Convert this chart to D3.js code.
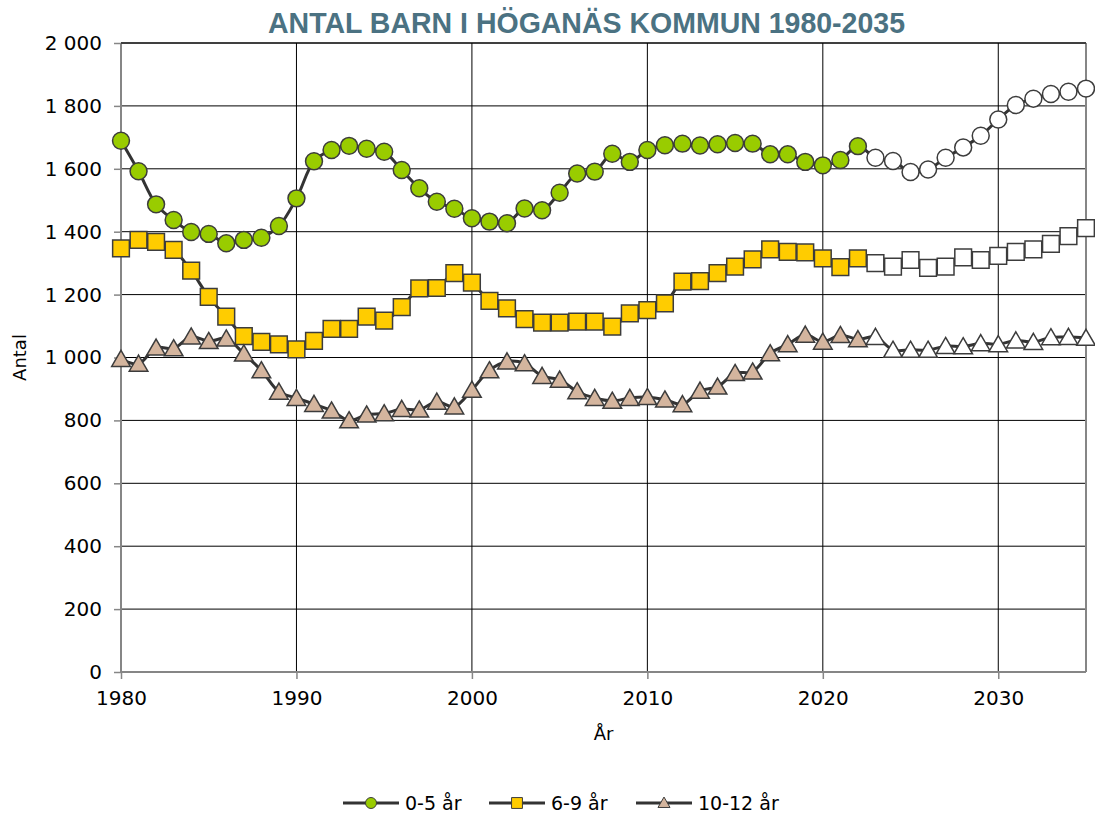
<!DOCTYPE html>
<html>
<head>
<meta charset="utf-8">
<script src="https://cdn.jsdelivr.net/npm/d3@7"></script>
<style>
  body { margin: 0; background: #fff; }
  svg { display: block; }
  text { font-family: "DejaVu Sans", sans-serif; fill: #000; }
</style>
</head>
<body>
<svg id="chart" width="1095" height="813"></svg>
<script>
// years 1980-2035, actual up to 2022 then forecast (white markers)
var years = d3.range(1980, 2036);
var lastActual = 2022;
var yTicks = [0, 200, 400, 600, 800, 1000, 1200, 1400, 1600, 1800, 2000];
var xTicks = [1980, 1990, 2000, 2010, 2020, 2030];

var age0_5 = [1689, 1592, 1487, 1437, 1399, 1393, 1363, 1374, 1381, 1418,
              1506, 1624, 1660, 1673, 1664, 1654, 1596, 1538, 1495, 1473,
              1443, 1432, 1427, 1474, 1468, 1524, 1585, 1591, 1648, 1622,
              1660, 1675, 1680, 1674, 1678, 1682, 1680, 1646, 1646, 1622,
              1611, 1628, 1672, 1635, 1625, 1590, 1598, 1635, 1668, 1705,
              1757, 1803, 1823, 1838, 1845, 1855];
var age6_9 = [1347, 1374, 1368, 1342, 1276, 1193, 1130, 1068, 1050, 1042,
              1026, 1053, 1091, 1091, 1130, 1117, 1160, 1220, 1221, 1268,
              1238, 1180, 1156, 1122, 1111, 1111, 1114, 1114, 1098, 1140,
              1151, 1172, 1241, 1243, 1268, 1289, 1312, 1344, 1336, 1334,
              1315, 1287, 1315, 1300, 1289, 1310, 1285, 1289, 1318, 1310,
              1323, 1336, 1344, 1361, 1386, 1411];
var age10_12 = [995, 980, 1031, 1029, 1066, 1052, 1060, 1012, 959, 891,
                871, 852, 831, 800, 818, 822, 836, 834, 859, 844,
                897, 959, 987, 981, 941, 929, 892, 871, 862, 871,
                874, 866, 851, 894, 907, 950, 955, 1013, 1042, 1072,
                1050, 1071, 1058, 1065, 1024, 1024, 1024, 1036, 1035, 1045,
                1042, 1054, 1049, 1064, 1065, 1062];

var seriesNames = ['0-5 år', '6-9 år', '10-12 år'];
var seriesColors = ['#99cc00', '#ffcc00', '#d4b59e'];
var seriesShapes = [d3.symbolCircle, d3.symbolSquare, d3.symbolTriangle];
var seriesSizes = [225, 280, 150];
var seriesValues = [age0_5, age6_9, age10_12];

var margin = { top: 43, right: 9, bottom: 141, left: 121 };
var svg = d3.select('#chart');
var width = +svg.attr('width');
var height = +svg.attr('height');
var innerWidth = width - margin.left - margin.right;
var innerHeight = height - margin.top - margin.bottom;

var xScale = d3.scaleLinear().domain([1980, 2035]).range([0, innerWidth]);
var yScale = d3.scaleLinear().domain([0, 2000]).range([innerHeight, 0]);

// title (bold face squeezed to the reference width)
svg.append('text')
   .attr('x', 268)
   .attr('y', 33)
   .attr('textLength', 637)
   .attr('lengthAdjust', 'spacingAndGlyphs')
   .style('font-family', '"Liberation Sans", sans-serif')
   .style('font-weight', 'bold')
   .style('font-size', '30px')
   .style('fill', '#4b7282')
   .text('ANTAL BARN I HÖGANÄS KOMMUN 1980-2035');

var g = svg.append('g')
   .attr('transform', `translate(${margin.left},${margin.top})`);

// gridlines
g.selectAll('.hgrid')
   .data(yTicks.filter(d => d > 0))
   .enter()
   .append('line')
   .attr('x1', 0).attr('x2', innerWidth)
   .attr('y1', d => yScale(d)).attr('y2', d => yScale(d))
   .style('stroke', '#000').style('stroke-width', 1);
g.selectAll('.vgrid')
   .data(xTicks.filter(d => d > 1980))
   .enter()
   .append('line')
   .attr('x1', d => xScale(d)).attr('x2', d => xScale(d))
   .attr('y1', 0).attr('y2', innerHeight)
   .style('stroke', '#000').style('stroke-width', 1);

// axes
var yAxis = g.append('g')
   .call(d3.axisLeft(yScale).tickValues(yTicks).tickSize(7).tickPadding(12)
     .tickFormat(d => d3.format(',')(d).replace(',', '\u00a0')));
var xAxis = g.append('g')
   .attr('transform', `translate(0,${innerHeight})`)
   .call(d3.axisBottom(xScale).tickValues(xTicks.concat([2035])).tickSize(7).tickPadding(12)
     .tickFormat(d => d === 2035 ? '' : d));
[yAxis, xAxis].forEach(function(ax) {
  ax.attr('font-family', null).attr('font-size', null);
  ax.select('.domain').remove();
  ax.selectAll('line').style('stroke', '#868686').style('stroke-width', 1.5);
  ax.selectAll('text').style('font-size', '20px').style('fill', '#000')
    .style('font-family', '"DejaVu Sans", sans-serif');
});
xAxis.selectAll('.tick').filter(d => d === 2035).select('line').remove();

// plot border (axis lines)
g.append('line').attr('x1', 0).attr('x2', 0).attr('y1', 0).attr('y2', innerHeight)
   .style('stroke', '#868686').style('stroke-width', 2);
g.append('line').attr('x1', innerWidth).attr('x2', innerWidth).attr('y1', 0).attr('y2', innerHeight)
   .style('stroke', '#868686').style('stroke-width', 2);
g.append('line').attr('x1', 0).attr('x2', innerWidth).attr('y1', innerHeight).attr('y2', innerHeight)
   .style('stroke', '#868686').style('stroke-width', 2);
g.append('line').attr('x1', 0).attr('x2', innerWidth).attr('y1', 0).attr('y2', 0)
   .style('stroke', '#000').style('stroke-width', 1.2);

// axis titles
svg.append('text')
   .attr('transform', `translate(26,${margin.top + innerHeight / 2}) rotate(-90)`)
   .attr('text-anchor', 'middle')
   .style('font-size', '18px')
   .text('Antal');
svg.append('text')
   .attr('x', margin.left + innerWidth / 2)
   .attr('y', 740)
   .attr('text-anchor', 'middle')
   .style('font-size', '18px')
   .text('År');

// series
var line = d3.line()
   .x(d => xScale(d.year))
   .y(d => yScale(d.value))
   .curve(d3.curveCatmullRom);

seriesValues.forEach(function(vals, i) {
  var data = years.map((y, j) => ({ year: y, value: vals[j] }));
  g.append('path')
     .datum(data)
     .style('fill', 'none')
     .style('stroke', '#333')
     .style('stroke-width', 3)
     .attr('d', line);
  g.selectAll('.m' + i)
     .data(data)
     .enter()
     .append('path')
     .attr('d', d3.symbol().type(seriesShapes[i]).size(seriesSizes[i]))
     .attr('transform', d => `translate(${xScale(d.year)},${yScale(d.value) + (i === 2 ? 2 : 0)})`)
     .style('fill', d => d.year > lastActual ? '#fff' : seriesColors[i])
     .style('stroke', '#3c3c3c')
     .style('stroke-width', 1.5);
});

// legend
var legendX = [343, 489, 636];
var legend = svg.append('g').attr('transform', 'translate(0,803)');
seriesNames.forEach(function(name, i) {
  var lg = legend.append('g').attr('transform', `translate(${legendX[i]},0)`);
  lg.append('line').attr('x1', 0).attr('x2', 56).attr('y1', 0).attr('y2', 0)
    .style('stroke', '#333').style('stroke-width', 3);
  lg.append('path')
    .attr('d', d3.symbol().type(seriesShapes[i]).size(seriesSizes[i] * 0.42))
    .attr('transform', `translate(28,${i === 2 ? 1 : 0})`)
    .style('fill', seriesColors[i])
    .style('stroke', '#3c3c3c')
    .style('stroke-width', 1);
  lg.append('text')
    .attr('x', 62)
    .attr('y', 7)
    .style('font-size', '19px')
    .text(name);
});
</script>
</body>
</html>
